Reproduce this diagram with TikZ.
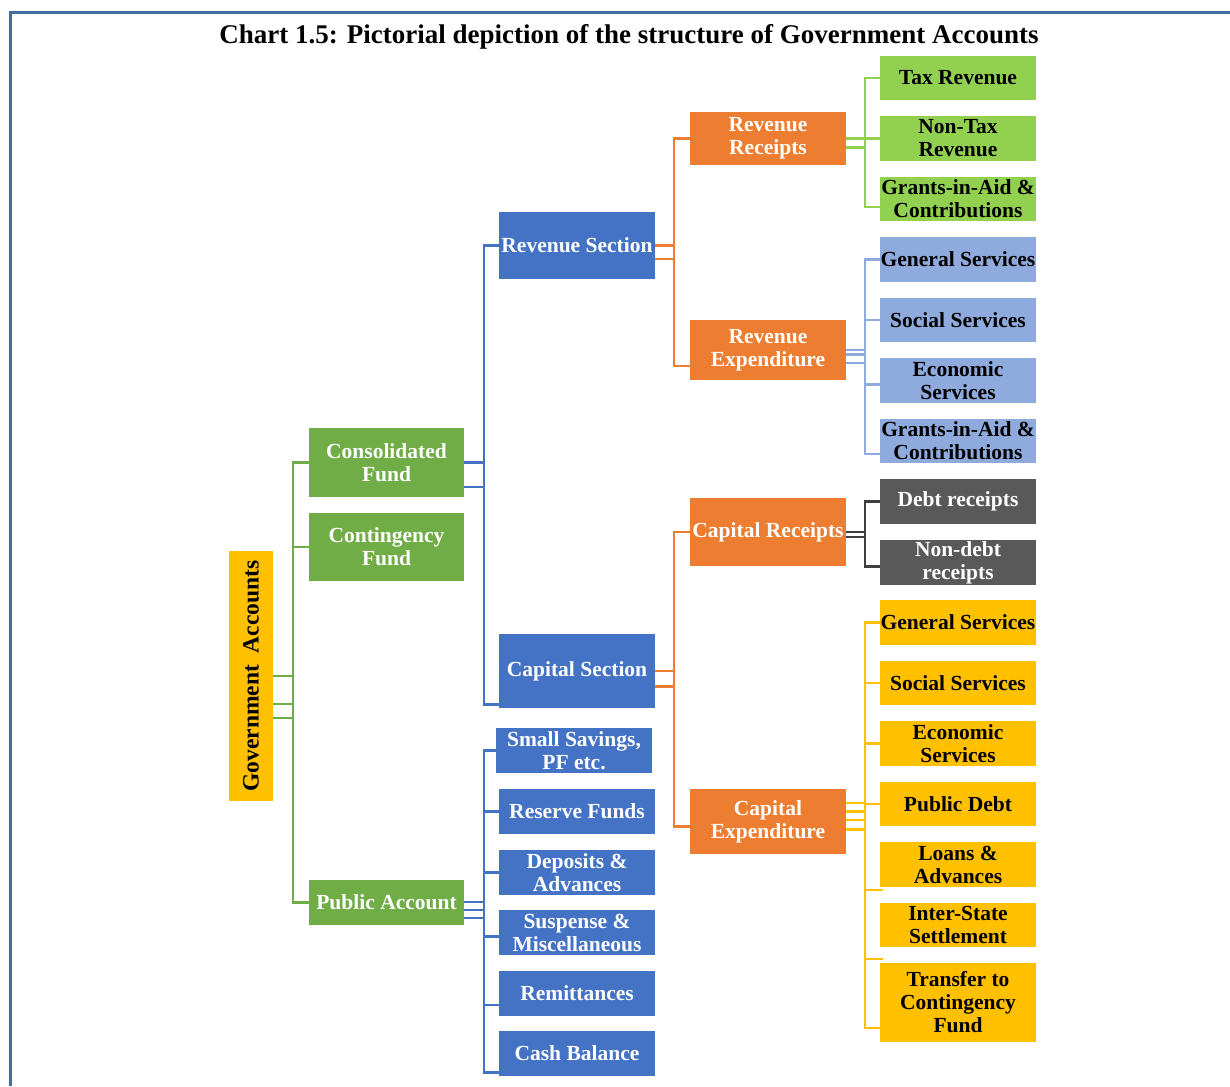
\documentclass[tikz,border=0pt]{standalone}
\usepackage{fontspec}
\setmainfont{Liberation Serif}
\definecolor{accblue}{HTML}{4472C4}
\definecolor{accgreen}{HTML}{70AD47}
\definecolor{accorange}{HTML}{ED7D31}
\definecolor{acclime}{HTML}{92D050}
\definecolor{acclightblue}{HTML}{8FAADC}
\definecolor{accgray}{HTML}{595959}
\definecolor{accdark}{HTML}{3F3F3F}
\definecolor{accyellow}{HTML}{FFC000}
\definecolor{framecol}{HTML}{41719C}
\tikzset{
  box/.style={minimum width=156pt, inner sep=0pt, align=center, font=\fontsize{21.5}{23}\selectfont\bfseries},
  darkbox/.style={box, fill=#1, text=white},
  lightbox/.style={box, fill=#1, text=black},
  conn/.style={draw=#1, line width=2.7pt},
}
\begin{document}
\begin{tikzpicture}[x=1pt,y=-1pt]
  \useasboundingbox (0,0) rectangle (1230,1086);
  \draw[framecol, line width=3pt] (10,1086) -- (10,13) -- (1230,13);
  \node[font=\fontsize{27}{29}\selectfont\bfseries] (title) at (629,37) {Chart 1.5: Pictorial depiction of the structure of Government Accounts};

  \node[lightbox=accyellow, minimum width=250pt, minimum height=44pt, rotate=90, font=\fontsize{23.5}{25}\selectfont\bfseries] (gov) at (251,676) {Government\ \ Accounts};

  \node[darkbox=accgreen, minimum width=155pt, minimum height=69pt] (cons) at (386.5,462.5) {Consolidated\\Fund};
  \node[darkbox=accgreen, minimum width=155pt, minimum height=68pt] (cont) at (386.5,547) {Contingency\\Fund};
  \node[darkbox=accgreen, minimum width=155pt, minimum height=45pt] (pub) at (386.5,902.5) {Public Account};

  \node[darkbox=accblue, minimum height=67pt] (revsec) at (577,245.5) {Revenue Section};
  \node[darkbox=accblue, minimum height=74pt] (capsec) at (577,671) {Capital Section};
  \node[darkbox=accblue, minimum height=45pt] (small) at (574,750.5) {Small Savings,\\PF etc.};
  \node[darkbox=accblue, minimum height=45pt] (reserve) at (577,811.5) {Reserve Funds};
  \node[darkbox=accblue, minimum height=45pt] (deposits) at (577,872.5) {Deposits \&\\Advances};
  \node[darkbox=accblue, minimum height=45pt] (suspense) at (577,932.5) {Suspense \&\\Miscellaneous};
  \node[darkbox=accblue, minimum height=45pt] (remit) at (577,993) {Remittances};
  \node[darkbox=accblue, minimum height=45pt] (cash) at (577,1053.5) {Cash Balance};

  \node[darkbox=accorange, minimum height=53pt] (revrec) at (768,138.5) {Revenue\\Receipts};
  \node[darkbox=accorange, minimum height=60pt] (revexp) at (768,350) {Revenue\\Expenditure};
  \node[darkbox=accorange, minimum height=68pt] (caprec) at (768,532) {Capital Receipts};
  \node[darkbox=accorange, minimum height=65pt] (capexp) at (768,821.5) {Capital\\Expenditure};

  \node[lightbox=acclime, minimum height=44pt] (tax) at (958,78) {Tax Revenue};
  \node[lightbox=acclime, minimum height=45pt] (nontax) at (958,138.5) {Non-Tax\\Revenue};
  \node[lightbox=acclime, minimum height=44pt] (grantsa) at (958,199) {Grants-in-Aid \&\\Contributions};

  \node[lightbox=acclightblue, minimum height=45pt] (gena) at (958,259.5) {General Services};
  \node[lightbox=acclightblue, minimum height=44pt] (soca) at (958,320) {Social Services};
  \node[lightbox=acclightblue, minimum height=45pt] (ecoa) at (958,380.5) {Economic\\Services};
  \node[lightbox=acclightblue, minimum height=44pt] (grantsb) at (958,441) {Grants-in-Aid \&\\Contributions};

  \node[darkbox=accgray, minimum height=45pt] (debt) at (958,501.5) {Debt receipts};
  \node[darkbox=accgray, minimum height=45pt] (nondebt) at (958,562.5) {Non-debt\\receipts};

  \node[lightbox=accyellow, minimum height=45pt] (genb) at (958,622.5) {General Services};
  \node[lightbox=accyellow, minimum height=44pt] (socb) at (958,683) {Social Services};
  \node[lightbox=accyellow, minimum height=45pt] (ecob) at (958,743.5) {Economic\\Services};
  \node[lightbox=accyellow, minimum height=44pt] (pdebt) at (958,804) {Public Debt};
  \node[lightbox=accyellow, minimum height=45pt] (loans) at (958,864.5) {Loans \&\\Advances};
  \node[lightbox=accyellow, minimum height=44pt] (inter) at (958,925) {Inter-State\\Settlement};
  \node[lightbox=accyellow, minimum height=79pt] (transfer) at (958,1002.5) {Transfer to\\Contingency\\Fund};

  \coordinate (gbus) at (293,0);
  \coordinate (bbus) at (484,0);
  \coordinate (obus) at (674,0);
  \coordinate (rbus) at (865,0);

  \draw[conn=accgreen] (cons.west) -| (pub.west -| gbus) -- (pub.west);
  \draw[conn=accgreen] (cont.west) -- (cont.west -| gbus);
  \foreach \d in {0,28,42}
    \draw[conn=accgreen] (gov.south) ++(0,\d) -- ++(20,0);

  \coordinate (capin) at ([yshift=4pt]capsec.south west);
  \draw[conn=accblue] (revsec.west) -| (capin -| bbus) -- (capin);
  \foreach \d in {0,24.5}
    \draw[conn=accblue] (cons.east) ++(0,\d) -- ++(20,0);

  \coordinate (cashin) at ([yshift=4pt]cash.south west);
  \draw[conn=accblue] (small.west) -| (cashin -| bbus) -- (cashin);
  \foreach \n/\d in {reserve/0,deposits/0,suspense/4,remit/12}
    \draw[conn=accblue] (\n.west) ++(0,\d) -- ++(-15,0);
  \foreach \d in {-0.5,7.5,15.5}
    \draw[conn=accblue] (pub.east) ++(0,\d) -- ++(20,0);

  \coordinate (revexpin) at ([yshift=-16pt]revexp.west);
  \draw[conn=accorange] (revrec.west) -| (revexpin -| obus) -- (revexpin);
  \foreach \d in {0,13.5}
    \draw[conn=accorange] (revsec.east) ++(0,\d) -- ++(19,0);

  \coordinate (capexpin) at ([yshift=-5pt]capexp.west);
  \draw[conn=accorange] (caprec.west) -| (capexpin -| obus) -- (capexpin);
  \foreach \d in {0,15.5}
    \draw[conn=accorange] (capsec.east) ++(0,\d) -- ++(19,0);

  \coordinate (grantsain) at ([yshift=-8pt]grantsa.west);
  \draw[conn=acclime] (tax.west) -| (grantsain -| rbus) -- (grantsain);
  \draw[conn=acclime] (nontax.west) -- (nontax.west -| rbus);
  \foreach \d in {0,9}
    \draw[conn=acclime] (revrec.east) ++(0,\d) -- ++(19,0);

  \coordinate (grantsbin) at ([yshift=-13pt]grantsb.west);
  \draw[conn=acclightblue] (gena.west) -| (grantsbin -| rbus) -- (grantsbin);
  \draw[conn=acclightblue] (soca.west) -- (soca.west -| rbus);
  \draw[conn=acclightblue] (ecoa.west) ++(0,4) -- ++(-15,0);
  \foreach \d in {0,4.5,13}
    \draw[conn=acclightblue] (revexp.east) ++(0,\d) -- ++(19,0);

  \coordinate (nondebtin) at ([yshift=-4pt]nondebt.west);
  \draw[conn=accdark] (debt.west) -| (nondebtin -| rbus) -- (nondebtin);
  \foreach \d in {0,5}
    \draw[conn=accdark] (caprec.east) ++(0,\d) -- ++(19,0);

  \coordinate (transferin) at ([yshift=-25.5pt]transfer.west);
  \draw[conn=accyellow] (genb.west) -| (transferin -| rbus) -- (transferin);
  \foreach \n in {socb,ecob,pdebt}
    \draw[conn=accyellow] (\n.west) -- (\n.west -| rbus);
  \draw[conn=accyellow] (loans.west) ++(3,25.5) -- ++(-18,0);
  \draw[conn=accyellow] (inter.west) ++(3,34) -- ++(-18,0);
  \foreach \d in {-18.5,-10,-1.5,8}
    \draw[conn=accyellow] (capexp.east) ++(0,\d) -- ++(19,0);
\end{tikzpicture}
\end{document}
